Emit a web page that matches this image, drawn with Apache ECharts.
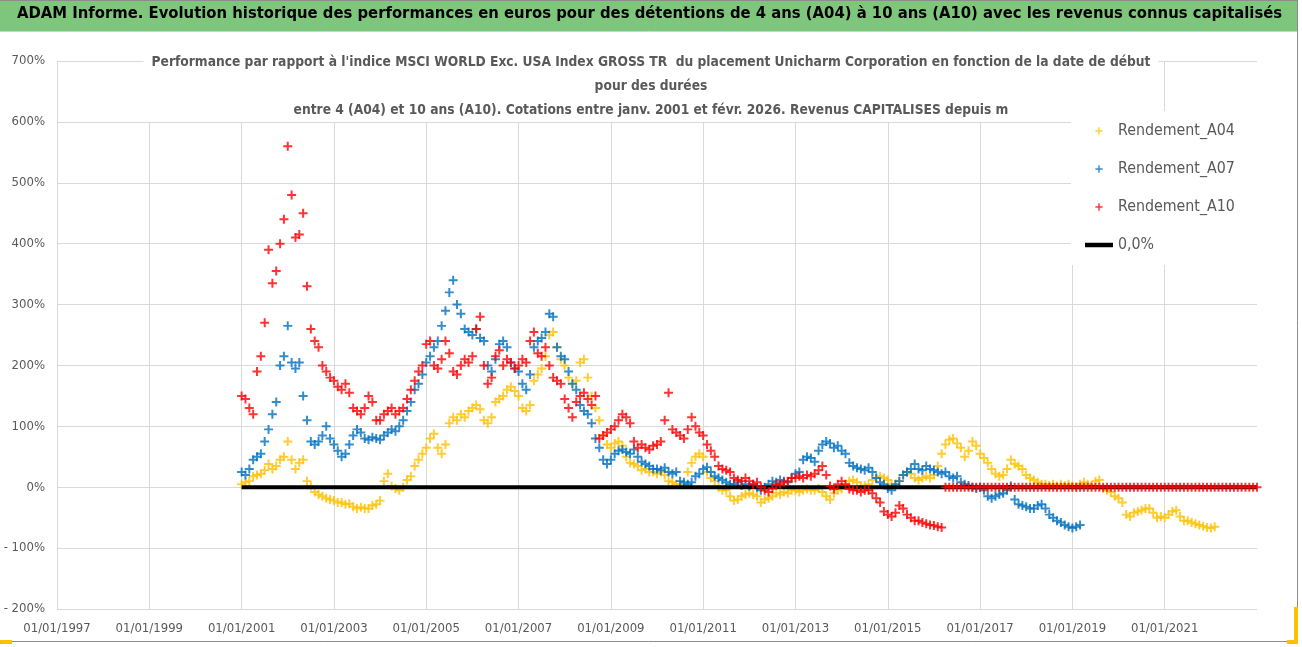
<!DOCTYPE html>
<html><head><meta charset="utf-8">
<script src="https://cdn.jsdelivr.net/npm/echarts@6/dist/echarts.min.js"></script>
<style>html,body{margin:0;padding:0;background:#fff}#c{width:1302px;height:647px}</style>
</head><body><div id="c"></div><script>
// ---- data (monthly readings, starting January 2001) ----
const axisStartYear = 1997;
const xTickLabels = ['01/01/1997','01/01/1999','01/01/2001','01/01/2003','01/01/2005','01/01/2007','01/01/2009','01/01/2011','01/01/2013','01/01/2015','01/01/2017','01/01/2019','01/01/2021'];
const seriesNames = ['Rendement_A04','Rendement_A07','Rendement_A10','0,0%'];
const mainTitle = 'ADAM Informe. Evolution historique des performances en euros pour des détentions de 4 ans (A04) à 10 ans (A10) avec les revenus connus capitalisés';
const subTitleLines = [
 "Performance par rapport à l'indice MSCI WORLD Exc. USA Index GROSS TR  du placement Unicharm Corporation en fonction de la date de début",
 "pour des durées",
 "entre 4 (A04) et 10 ans (A10). Cotations entre janv. 2001 et févr. 2026. Revenus CAPITALISES depuis m"
];
const a04Start = 2001;
const a04Values = [
 5,8,10,18,20,22,28,38,30,35,45,50,
 75,45,30,40,45,10,2,-8,-12,-15,-18,-20,
 -22,-25,-25,-28,-27,-32,-35,-33,-35,-35,-30,-28,
 -22,10,22,2,-2,-5,0,12,18,35,45,55,
 65,80,88,65,55,70,105,115,110,120,115,125,
 130,135,128,110,105,115,140,145,150,160,165,158,
 150,130,125,135,175,185,195,215,250,255,230,210,
 200,180,170,175,205,210,180,150,130,110,85,70,
 65,72,75,68,50,40,38,35,28,30,25,25,
 22,25,20,10,8,5,5,5,25,40,50,55,
 50,25,15,10,0,-5,-5,-15,-22,-20,-15,-12,
 -10,-12,-15,-25,-20,-18,-15,-10,-12,-8,-10,-5,
 -5,-8,-5,-3,-5,-5,-2,-8,-15,-20,-10,-5,
 -3,5,10,12,8,2,3,5,12,15,18,15,
 12,5,2,10,20,25,22,15,12,15,18,15,
 20,35,55,70,78,80,72,65,50,60,75,68,
 55,48,40,30,22,18,20,30,45,38,35,30,
 20,15,12,8,5,5,3,5,2,5,3,5,
 2,0,5,8,5,3,10,12,-2,-5,-8,-15,
 -18,-25,-45,-48,-42,-40,-38,-35,-35,-42,-50,-48,
 -50,-45,-40,-38,-48,-55,-55,-58,-60,-62,-64,-66,
 -67,-65
];
const a07Start = 2001;
const a07Values = [
 25,20,30,45,50,55,75,95,120,140,200,215,
 265,205,195,205,150,110,75,70,75,85,100,80,
 70,60,50,55,70,85,95,90,80,78,82,80,
 78,85,90,95,92,100,110,125,140,160,170,185,
 205,215,230,240,265,290,320,340,300,285,260,255,
 250,260,245,240,200,190,210,235,240,230,205,195,
 190,170,160,185,230,240,245,255,285,280,230,215,
 210,190,170,160,135,125,120,105,80,65,45,38,
 45,55,60,62,58,55,62,50,42,38,35,30,
 30,28,32,25,22,25,10,8,5,8,18,22,
 30,33,25,18,15,12,8,5,5,8,3,5,
 2,5,0,-5,0,5,10,8,12,10,8,15,
 22,25,45,50,48,42,60,70,75,72,65,68,
 60,55,40,35,32,30,28,32,25,15,8,5,
 -2,-5,5,10,20,25,30,38,30,28,35,30,
 28,25,22,25,18,15,18,8,5,3,0,-2,
 0,-5,-15,-18,-15,-12,-10,-5,2,-20,-28,-30,
 -32,-35,-35,-30,-28,-35,-45,-50,-55,-58,-62,-65,
 -67,-65,-62
];
const a10Start = 2001;
const a10Values = [
 150,145,130,120,190,215,270,390,335,355,400,440,
 560,480,410,415,450,330,260,240,230,200,190,180,
 175,165,160,170,155,130,125,120,130,150,140,110,
 110,120,125,130,120,125,130,145,160,175,190,200,
 235,240,200,195,210,240,220,190,185,200,210,205,
 215,260,280,200,170,180,215,225,200,210,205,195,
 200,210,205,240,255,220,215,230,200,180,175,170,
 145,130,115,140,150,155,145,135,150,80,85,90,
 95,100,110,120,115,105,75,65,70,65,62,68,
 70,75,110,155,95,90,85,80,95,115,100,90,
 85,70,60,50,35,30,28,25,15,12,10,15,
 10,5,8,0,-5,-8,-2,5,5,8,10,15,
 15,18,15,20,18,22,28,35,20,2,-3,5,
 10,5,-3,-5,-5,-8,-5,-5,-10,-18,-25,-40,
 -45,-48,-42,-30,-35,-45,-50,-55,-55,-58,-60,-62,
 -63,-65,-66,
 0,0,0,0,0,0,0,0,0,
 0,0,0,0,0,0,0,0,0,0,0,0,
 0,0,0,0,0,0,0,0,0,0,0,0,
 0,0,0,0,0,0,0,0,0,0,0,0,
 0,0,0,0,0,0,0,0,0,0,0,0,
 0,0,0,0,0,0,0,0,0,0,0,0,
 0,0,0,0,0,0,0,0,0,0,0,0,
 0
];
const zeroLineYears = [2001, 2023];
const zeroLineValues = [0, 0];

// ---- font selection & fitting ----
const ctx = document.createElement('canvas').getContext('2d');
function hasFont(f){
  const t = 'abcdefghijklmnopqrstuvwxyzABCDEFG0123456789';
  ctx.font = '40px monospace'; const w1 = ctx.measureText(t).width;
  ctx.font = '40px "' + f + '", monospace'; const w2 = ctx.measureText(t).width;
  return Math.abs(w1 - w2) > 0.5;
}
const fontCandidates = ['DejaVu Sans Condensed', 'Liberation Sans Narrow', 'Liberation Sans', 'Roboto'];
const FONT_NAME = fontCandidates.find(hasFont) || 'sans-serif';
const FONT = '"' + FONT_NAME + '", sans-serif';
function fitSize(text, weight, targetWidth, maxSize){
  ctx.font = weight + ' 20px ' + FONT;
  const w = ctx.measureText(text).width;
  return Math.min(maxSize, 20 * targetWidth / w);
}
const titleSize = fitSize(mainTitle, 'bold', 1266, 19);
const subSize = fitSize(subTitleLines[0], 'bold', 1000, 16);
const legendSize = fitSize('Rendement_A04', 'normal', 117, 17);
const axisSize = 13;

// ---- build ----
function monthly(start, values){
  return values.map((v,i)=>[(start - axisStartYear) + i/12, v]);
}
const plus = 'path://M3.9 0H6.1V3.9H10V6.1H6.1V10H3.9V6.1H0V3.9H3.9Z';
const plusLegend = 'path://M-6 -6M16 16M4 0H6V4H10V6H6V10H4V6H0V4H4Z';
const barLegend = 'path://M0 0H28V4.5H0Z';
const grey = '#595959';

const chart = echarts.init(document.getElementById('c'), null, {renderer:'canvas'});
function scatter(name, color, data, z){
  return {name, type:'scatter', data, symbol: plus, symbolSize: 9, z,
    itemStyle:{color}, emphasis:{disabled:true}, silent:true};
}
chart.setOption({
  animation:false,
  backgroundColor:'#fff',
  textStyle:{fontFamily: FONT},
  graphic:[
    {type:'rect', z:-10, shape:{x:0,y:0,width:1297,height:31}, style:{fill:'#7DC67C'}},
    {type:'line', z:-9, shape:{x1:0,y1:31.5,x2:1297,y2:31.5}, style:{stroke:'#d0d0d0',lineWidth:1}},
    {type:'line', z:-9, shape:{x1:0,y1:0.5,x2:1297,y2:0.5}, style:{stroke:'#8c8c8c',lineWidth:1}},
    {type:'line', z:-9, shape:{x1:1297.5,y1:0,x2:1297.5,y2:641}, style:{stroke:'#8c8c8c',lineWidth:1}},
    {type:'line', z:-9, shape:{x1:0,y1:641.5,x2:1297,y2:641.5}, style:{stroke:'#8c8c8c',lineWidth:1}},
    {type:'rect', z:-8, shape:{x:1294,y:607,width:4,height:36}, style:{fill:'#FFC000'}},
    {type:'rect', z:-8, shape:{x:1287,y:640,width:11,height:4}, style:{fill:'#FFC000'}},
    {type:'rect', z:-8, shape:{x:0,y:640,width:12,height:4}, style:{fill:'#FFC000'}}
  ],
  title:[
    {text: mainTitle, left:17, top:6, padding:0, z:6,
     textStyle:{fontFamily:FONT, fontSize:titleSize, fontWeight:'bold', color:'#000'}},
    {text: subTitleLines.join('\n'), z:6,
     left:'center', top:48, padding:[2,8,0,8], backgroundColor:'#fff',
     textStyle:{fontFamily:FONT, fontSize:subSize, fontWeight:'bold', color:grey, lineHeight:24}}
  ],
  legend:{
    z:10,
    orient:'vertical', left:1071, top:111, padding:[12,30,12,14],
    backgroundColor:'#fff', itemWidth:28, itemHeight:16, itemGap:22,
    textStyle:{fontFamily:FONT, fontSize:legendSize, color:grey},
    selectedMode:false,
    data:[
      {name:seriesNames[0], icon:plusLegend},
      {name:seriesNames[1], icon:plusLegend},
      {name:seriesNames[2], icon:plusLegend},
      {name:seriesNames[3], icon:barLegend}
    ]
  },
  grid:{left:57, right:45, top:61, bottom:38, containLabel:false},
  xAxis:{
    type:'value', min:0, max:26, interval:2,
    axisLine:{show:false}, axisTick:{show:false},
    splitLine:{show:true, showMaxLine:false, lineStyle:{color:'#d9d9d9', width:1}},
    axisLabel:{showMaxLabel:false, margin:13, color:grey, fontSize:axisSize, fontFamily:FONT,
      formatter:(v)=> xTickLabels[Math.round(v/2)] || ''}
  },
  yAxis:{
    type:'value', min:-200, max:700, interval:100,
    axisLine:{show:false}, axisTick:{show:false},
    splitLine:{show:true, lineStyle:{color:'#d9d9d9', width:1}},
    axisLabel:{margin:12, color:grey, fontSize:axisSize, fontFamily:FONT,
      formatter:(v)=> v < 0 ? '- ' + Math.abs(v) + '%' : v + '%'}
  },
  series:[
    scatter(seriesNames[0], '#FFC000', monthly(a04Start, a04Values), 2),
    scatter(seriesNames[1], '#0070C0', monthly(a07Start, a07Values), 3),
    scatter(seriesNames[2], '#FF0000', monthly(a10Start, a10Values), 5),
    {name:seriesNames[3], type:'line', z:4, symbol:'none', silent:true,
     data: zeroLineYears.map((y,i)=>[y - axisStartYear, zeroLineValues[i]]),
     lineStyle:{color:'#000', width:4}, itemStyle:{color:'#000'}}
  ]
});
</script></body></html>
